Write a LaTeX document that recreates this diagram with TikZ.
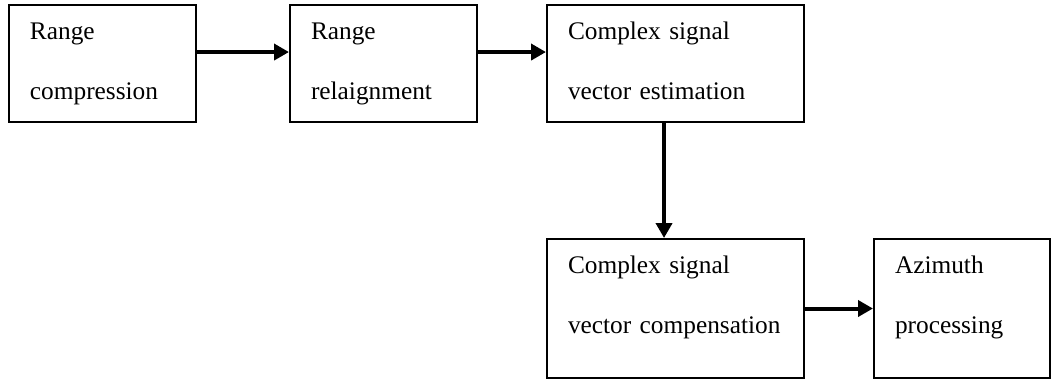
\documentclass[tikz,border=0pt]{standalone}
\usepackage{fontspec}
\setmainfont{Liberation Serif}
\usepackage{tikz}
\usetikzlibrary{arrows.meta}

\tikzset{
  blk/.style={draw, line width=1.5pt, inner xsep=15.75pt, inner ysep=0pt, anchor=north west,
    align=left, font=\fontsize{19}{45}\selectfont, text height=25.5pt},
  flow/.style={line width=3pt, -{Triangle[length=11.25pt,width=12pt]}}
}

\begin{document}
\begin{tikzpicture}[x=0.75pt,y=0.75pt,yscale=-1,xscale=1]
\useasboundingbox (0,0) rectangle (1051,380);

%Shape: Rectangle [id:rangecomp]
\node [blk, text width=108.75pt, text depth=62.25pt] (rcomp) at (8,4) {Range\\compression};
%Shape: Rectangle [id:rangerealign]
\node [blk, text width=108.75pt, text depth=62.25pt] (realign) at (289,4) {Range\\relaignment};
%Shape: Rectangle [id:vecest]
\node [blk, text width=161.25pt, text depth=62.25pt] (vecest) at (546,4) {Complex signal\\vector estimation};
%Shape: Rectangle [id:veccomp]
\node [blk, text width=161.25pt, text depth=78.75pt] (veccomp) at (546,238) {Complex signal\\vector compensation};
%Shape: Rectangle [id:azproc]
\node [blk, text width=100.5pt, text depth=78.75pt] (azproc) at (873,238) {Azimuth\\processing};

%Straight Lines [id:rcomp-realign]
\draw [flow] ([yshift=-8.6pt]rcomp.east) -- ([yshift=-8.6pt]realign.west);
%Straight Lines [id:realign-vecest]
\draw [flow] ([yshift=-8.6pt]realign.east) -- ([yshift=-8.6pt]vecest.west);
%Straight Lines [id:vecest-veccomp]
\draw [flow] ([xshift=-8.6pt]vecest.south) -- ([xshift=-8.6pt]veccomp.north);
%Straight Lines [id:veccomp-azproc]
\draw [flow] (veccomp.east) -- (azproc.west);

\end{tikzpicture}
\end{document}
